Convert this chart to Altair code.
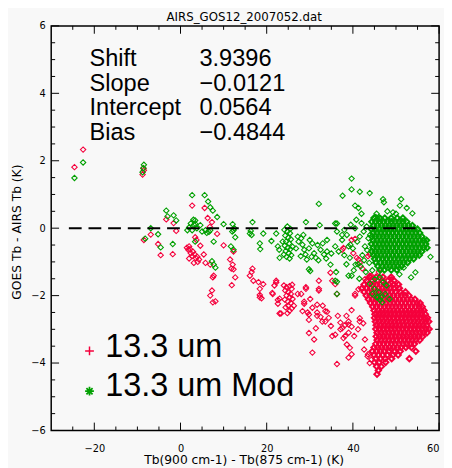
import altair as alt
import pandas as pd

# ---------------- data ----------------
# "13.3 um" (red) scattered points: (x, y)
red_pts = [
    (-22.6, 2.33), (-24.6, 1.81), (-8.6, 1.78), (-8.8, 1.59), (-8.5, 1.72),
    (-8.5, -0.35), (-6.9, -0.19), (-3.3, 0.26), (-1.6, 0.15), (-1.0, -0.08),
    (-5.2, -0.47), (-4.6, -0.8), (-1.8, -0.77),
    (2.7, 0.67), (5.6, 0.6), (6.3, 0.3), (7.3, 0.18), (6.8, 0.04), (3.4, -0.27),
    (3.7, -0.35), (8.5, -0.17), (10.0, -0.51), (4.6, -0.52), (2.0, -0.54),
    (1.8, -0.64), (2.4, -0.74), (2.7, -0.83), (3.5, -0.88), (3.1, -1.03),
    (4.3, -0.93), (5.4, -0.78), (5.8, -1.03), (6.9, -1.08), (7.7, -1.41),
    (7.3, -1.85), (6.9, -2.0), (8.1, -2.17), (7.5, -1.46), (7.5, -2.2),
    (1.5, -0.58), (2.2, -0.62), (2.9, -0.7), (3.3, -0.78), (2.0, -0.9),
    (3.9, -0.85), (4.0, -1.0),
    (12.3, -0.69), (12.1, -1.08), (12.3, -1.22), (12.7, -1.46), (11.9, -1.69),
    (11.5, -0.93), (11.8, -1.2), (16.7, -1.2), (16.1, -1.41), (16.9, -1.56),
    (16.5, -1.3), (18.1, -1.6),
    (19.2, -1.66), (18.4, -1.8), (18.4, -1.98), (18.8, -2.08), (18.4, -2.05),
    (21.4, -1.95), (22.2, -1.56), (21.8, -1.7), (22.6, -2.13), (23.0, -2.53),
    (23.0, -2.09), (22.6, -2.24), (23.3, -2.53), (21.3, -1.92), (22.2, -1.61),
    (24.0, -1.7), (24.6, -1.75), (25.3, -1.72), (25.8, -1.8), (24.3, -1.85),
    (25.0, -1.9), (25.6, -1.95), (24.6, -2.0), (25.3, -2.05), (26.0, -2.1),
    (24.2, -2.12), (24.9, -2.18), (25.6, -2.22), (25.0, -2.3), (24.4, -2.35),
    (25.8, -2.38), (25.3, -2.45), (26.3, -2.3), (24.8, -2.52), (25.9, -1.68),
    (27.2, -1.95), (28.0, -1.95), (29.1, -1.75), (28.7, -2.24), (28.7, -2.18),
    (29.5, -2.5), (28.3, -2.46), (29.8, -2.56), (29.8, -2.72), (30.6, -2.36),
    (31.7, -2.27), (32.1, -1.8), (31.7, -2.6), (32.9, -2.77), (34.4, -2.66),
    (33.6, -2.46), (31.4, -2.97), (29.8, -3.11), (31.0, -3.3), (30.6, -3.69),
    (32.1, -1.85), (31.7, -2.5), (32.5, -2.63), (33.6, -2.77), (34.0, -2.48),
    (35.9, -3.16), (35.2, -3.2), (37.5, -2.97), (37.1, -2.8), (38.2, -2.87),
    (39.0, -2.77), (39.7, -2.92), (37.8, -3.26), (38.6, -3.45), (39.3, -3.55),
    (39.7, -3.74), (39.0, -3.84), (36.3, -4.03), (41.6, -2.77), (42.4, -2.82),
    (43.5, -3.74), (44.3, -3.9), (39.7, -2.43), (40.5, -1.95), (41.3, -1.81),
    (36.3, -1.95), (35.9, -1.66), (34.8, -1.32), (35.2, -1.56), (32.1, -1.56),
    (29.1, -1.8), (30.1, -2.1), (33.0, -2.3), (34.9, -2.9), (36.5, -2.6),
    (38.5, -2.6), (39.0, -3.1), (40.3, -3.2), (38.2, -3.2), (37.1, -3.0),
    (41.6, -2.67), (41.2, -3.0), (42.8, -3.3), (42.6, -3.6), (43.4, -3.8),
    (43.9, -4.0), (40.5, -2.0), (42.0, -1.8), (42.8, -1.51), (43.9, -1.41),
    (39.0, -2.86),
    (37.8, -0.59), (40.1, -0.74), (40.9, -0.88), (41.6, -1.03), (43.9, -0.78),
    (40.5, -0.32), (37.5, -0.64), (39.7, -0.35), (41.3, -0.93), (43.5, -0.83),
    (44.3, -1.41), (48.9, -1.51), (42.2, -1.2), (46.0, -1.3),
]

# dense red cloud, read row by row: (y, [x, ...])
red_rows = [
    (-1.45, [43.9, 45.4, 47.0, 48.9]),
    (-1.56, [43.2, 44.5, 45.7, 46.9, 48.1, 49.6]),
    (-1.67, [42.6, 43.7, 44.6, 45.5, 46.4, 47.3, 48.4, 49.5, 50.6]),
    (-1.78, [42.1, 43.2, 44.1, 45.0, 45.9, 46.8, 47.7, 48.6, 49.6, 50.8]),
    (-1.89, [42.6, 43.6, 44.5, 45.4, 46.3, 47.2, 48.1, 49.0, 49.9, 51.0, 52.2]),
    (-2.00, [43.1, 44.0, 44.9, 45.8, 46.7, 47.6, 48.5, 49.4, 50.3, 51.2, 52.1, 53.0]),
    (-2.11, [43.6, 44.5, 45.4, 46.3, 47.2, 48.1, 49.0, 49.9, 50.8, 51.7, 52.6, 53.5, 54.4]),
    (-2.22, [44.1, 45.0, 45.9, 46.8, 47.7, 48.6, 49.5, 50.4, 51.3, 52.2, 53.1, 54.0, 54.9, 55.6]),
    (-2.33, [44.6, 45.5, 46.4, 47.3, 48.2, 49.1, 50.0, 50.9, 51.8, 52.7, 53.6, 54.5, 55.4, 56.1]),
    (-2.44, [44.9, 45.9, 46.8, 47.7, 48.6, 49.5, 50.4, 51.3, 52.2, 53.1, 54.0, 54.9, 55.8, 56.5]),
    (-2.55, [45.1, 46.0, 46.9, 47.8, 48.7, 49.6, 50.5, 51.4, 52.3, 53.2, 54.1, 55.0, 55.9, 56.8]),
    (-2.66, [45.0, 45.9, 46.8, 47.7, 48.6, 49.5, 50.4, 51.3, 52.2, 53.1, 54.0, 54.9, 55.8, 56.7, 57.3]),
    (-2.77, [45.2, 46.1, 47.0, 47.9, 48.8, 49.7, 50.6, 51.5, 52.4, 53.3, 54.2, 55.1, 56.0, 56.9, 57.6]),
    (-2.88, [45.4, 46.3, 47.2, 48.1, 49.0, 49.9, 50.8, 51.7, 52.6, 53.5, 54.4, 55.3, 56.2, 57.1]),
    (-2.99, [45.3, 46.2, 47.1, 48.0, 48.9, 49.8, 50.7, 51.6, 52.5, 53.4, 54.3, 55.2, 56.1, 57.0, 57.7]),
    (-3.10, [45.6, 46.5, 47.4, 48.3, 49.2, 50.1, 51.0, 51.9, 52.8, 53.7, 54.6, 55.5, 56.4, 57.2]),
    (-3.21, [45.4, 46.3, 47.2, 48.1, 49.0, 49.9, 50.8, 51.7, 52.6, 53.5, 54.4, 55.3, 56.2]),
    (-3.32, [45.6, 46.5, 47.4, 48.3, 49.2, 50.1, 51.0, 51.9, 52.8, 53.7, 54.6, 55.5]),
    (-3.43, [45.3, 46.2, 47.1, 48.0, 48.9, 49.8, 50.7, 51.6, 52.5, 53.4, 54.3]),
    (-3.54, [44.9, 45.8, 46.7, 47.6, 48.5, 49.4, 50.3, 51.2, 52.3, 53.6]),
    (-3.65, [44.5, 45.5, 46.4, 47.3, 48.4, 49.6, 51.0, 54.6]),
    (-3.76, [44.9, 45.9, 46.9, 48.0, 49.3, 50.5]),
    (-3.87, [45.3, 46.4, 47.5, 49.0, 53.1]),
    (-3.98, [45.0, 46.1, 47.6]),
    (-4.10, [45.5, 46.6]),
    (-4.22, [45.9]),
    (-4.33, [45.6]),
]

# "13.3 um Mod" (green) scattered points: (x, y)
green_pts = [
    (-24.6, 1.49), (-22.6, 1.95), (-8.5, 1.88), (-8.8, 1.66), (-8.6, 1.78),
    (-8.2, -0.31), (-6.9, 0.0), (-5.2, -0.18), (-4.6, -0.57), (-3.3, 0.52),
    (-1.6, 0.38), (-1.0, 0.23), (-1.8, -0.47), (-3.0, 0.35),
    (2.7, 0.98), (5.6, 0.98), (6.4, 0.79), (6.9, 0.62), (7.5, 0.52), (8.5, 0.33),
    (3.4, 0.23), (2.4, 0.14), (3.1, 0.1), (3.5, 0.12), (4.6, 0.09), (2.0, 0.02),
    (2.7, -0.06), (1.6, -0.06), (5.8, -0.06), (6.6, -0.11), (6.9, -0.06),
    (7.7, -0.4), (10.0, 0.12), (12.1, 0.12), (12.3, -0.06), (12.0, -0.1),
    (12.7, -0.27), (11.7, -0.54), (12.3, -0.64), (7.3, -0.98), (7.7, -1.08),
    (8.1, -1.17), (16.7, 0.18), (16.1, -0.16), (16.5, -0.2), (3.4, -0.4),
    (3.0, 0.25), (3.8, 0.0), (5.0, -0.1), (6.1, -0.14), (12.5, 0.0), (16.3, -0.08),
    (18.4, -0.45), (18.5, -0.62), (19.2, -0.16), (21.1, -0.38), (22.2, -0.16),
    (22.6, -0.54), (22.9, -0.64), (23.0, -0.88), (23.7, -0.4),
    (24.1, -0.05), (24.8, -0.1), (25.4, -0.15), (24.3, -0.22), (25.0, -0.28),
    (25.6, -0.33), (24.5, -0.4), (25.2, -0.45), (24.2, -0.52), (24.9, -0.58),
    (25.5, -0.62), (24.4, -0.68), (25.1, -0.74), (25.7, -0.8), (24.6, -0.85),
    (25.3, -0.9), (24.0, -0.78), (26.0, -0.55), (24.8, 0.05), (25.5, -0.02),
    (27.2, -0.25), (27.4, -0.4), (28.3, -0.49), (28.7, -0.64), (27.9, -0.83),
    (29.0, -0.78), (29.8, -0.6), (30.6, -0.45), (31.0, -0.74), (31.4, -0.88),
    (29.3, -0.93), (32.5, -0.64), (33.3, -0.78), (34.0, -0.69), (34.0, -0.35),
    (35.9, -0.54), (36.3, -0.1), (37.5, -0.2), (29.1, 0.18), (32.1, 0.72),
    (32.3, 0.09), (35.9, 0.14), (37.6, 0.96), (39.7, 1.15), (29.8, -1.22),
    (30.1, -1.27), (35.9, -1.56), (36.1, -1.3), (39.0, -0.54), (39.7, -1.41),
    (36.3, -1.95), (28.0, -0.3), (30.0, -0.35), (31.8, -0.5), (33.0, -0.45),
    (32.0, -0.95), (30.4, -0.85), (28.5, -0.2), (26.8, -0.6), (33.8, -0.9),
    (35.0, -0.75), (34.8, -1.08),
    (39.7, 1.47), (41.6, 1.08), (43.9, 1.04), (47.0, 0.86), (47.2, 0.77),
    (51.2, 0.86), (50.9, 0.67), (49.3, 0.47), (50.0, 0.43), (53.8, 0.44),
    (40.5, 0.67), (41.3, 0.6), (42.0, 0.43), (45.5, 0.43), (45.3, 0.33),
    (46.5, 0.28), (36.3, 0.14), (58.0, -0.85), (48.0, 0.5), (52.5, 0.6),
    (37.5, -0.35), (36.7, -0.69), (38.6, -0.2), (39.4, -0.49), (40.5, 0.0),
    (41.6, -0.25), (42.8, -0.54), (39.3, -0.88), (38.5, -1.07), (41.2, -1.07),
    (43.2, 0.05), (43.6, -0.3), (44.3, -0.69), (43.8, -1.03), (36.3, -1.59),
    (39.0, -1.41), (40.6, -1.08), (41.8, -1.13), (45.1, -1.51), (47.8, -1.7),
    (46.6, -2.05), (50.8, -1.37), (53.5, -1.46), (54.5, -1.31), (51.8, -1.17),
    (38.0, -0.8), (40.0, -0.6), (41.0, -0.4), (42.2, -0.8), (42.5, -0.1),
    (42.0, 0.15), (40.8, 0.25), (39.5, 0.1), (43.0, -1.3), (41.5, -1.5),
    (44.0, -0.2), (43.3, -0.65), (42.6, -0.95), (40.2, -1.25), (38.0, -0.05),
    (44.5, -1.25),
    (44.0, -1.65), (45.0, -1.8), (46.0, -1.9), (45.5, -2.05), (46.8, -2.2),
    (47.5, -1.95), (48.5, -2.1), (44.5, -1.95), (47.0, -1.6), (46.2, -1.45),
    (45.8, -2.05), (46.3, -2.13),
]

# dense green cloud, read row by row: (y, [x, ...])
green_rows = [
    (0.30, [44.9, 46.2, 47.4, 48.9, 50.3, 51.6]),
    (0.19, [44.4, 45.3, 46.2, 47.1, 48.0, 48.9, 49.8, 50.7, 51.6, 52.5]),
    (0.08, [44.8, 45.7, 46.6, 47.5, 48.4, 49.3, 50.2, 51.1, 52.0, 52.9, 53.8]),
    (-0.03, [44.3, 45.2, 46.1, 47.0, 47.9, 48.8, 49.7, 50.6, 51.5, 52.4, 53.3, 54.2, 55.0]),
    (-0.14, [44.7, 45.6, 46.5, 47.4, 48.3, 49.2, 50.1, 51.0, 51.9, 52.8, 53.7, 54.6, 55.5]),
    (-0.25, [44.4, 45.2, 46.1, 47.0, 47.9, 48.8, 49.7, 50.6, 51.5, 52.4, 53.3, 54.2, 55.1, 56.0]),
    (-0.36, [44.7, 45.6, 46.5, 47.4, 48.3, 49.2, 50.1, 51.0, 51.9, 52.8, 53.7, 54.6, 55.5, 56.4, 57.1]),
    (-0.47, [44.3, 45.2, 46.1, 47.0, 47.9, 48.8, 49.7, 50.6, 51.5, 52.4, 53.3, 54.2, 55.1, 56.0, 56.9]),
    (-0.58, [44.7, 45.6, 46.5, 47.4, 48.3, 49.2, 50.1, 51.0, 51.9, 52.8, 53.7, 54.6, 55.5, 56.4, 57.2]),
    (-0.69, [44.4, 45.2, 46.1, 47.0, 47.9, 48.8, 49.7, 50.6, 51.5, 52.4, 53.3, 54.2, 55.1, 56.0]),
    (-0.80, [44.8, 45.6, 46.5, 47.4, 48.3, 49.2, 50.1, 51.0, 51.9, 52.8, 53.7, 54.6, 55.4]),
    (-0.91, [45.0, 46.0, 46.9, 47.8, 48.7, 49.6, 50.5, 51.4, 52.3, 53.2, 54.1]),
    (-1.02, [45.3, 46.4, 47.3, 48.2, 49.1, 50.0, 50.9, 51.8, 52.7]),
    (-1.13, [45.8, 46.8, 47.7, 48.6, 49.5, 50.4, 51.3]),
    (-1.24, [46.3, 47.3, 48.9, 50.2]),
]

stat_names = ["Shift", "Slope", "Intercept", "Bias"]
stat_values = ["3.9396", "\u22120.0121", "0.0564", "\u22120.4844"]
legend_labels = ["13.3 um", "13.3 um Mod"]
title_text = "AIRS_GOS12_2007052.dat"
x_title = "Tb(900 cm-1) - Tb(875 cm-1) (K)"
y_title = "GOES Tb - AIRS Tb (K)"
x_domain = [-30, 60]
y_domain = [-6, 6]
x_major = [-20, 0, 20, 40, 60]
y_major = [-6, -4, -2, 0, 2, 4, 6]
x_minor = [-25, -15, -10, -5, 5, 10, 15, 25, 30, 35, 45, 50, 55]
y_minor = [-5.5, -5, -4.5, -3.5, -3, -2.5, -1.5, -1, -0.5,
           0.5, 1, 1.5, 2.5, 3, 3.5, 4.5, 5, 5.5]
zero_line_start = -25.9

# ---------------- styling ----------------
RED = "#f5003c"
GREEN = "#00a000"
BG = "#f8f8f8"
W, H = 395, 412


def to_df(pts=None, rows=None):
    xs_, ys_ = [], []
    for p in (pts or []):
        xs_.append(p[0])
        ys_.append(p[1])
    for y, row in (rows or []):
        for x in row:
            xs_.append(x)
            ys_.append(y)
    return pd.DataFrame({"x": xs_, "y": ys_})


xs = alt.Scale(domain=x_domain, nice=False, zero=False)
ys = alt.Scale(domain=y_domain, nice=False, zero=False)
x_axis = alt.Axis(values=x_major, ticks=False, tickSize=0, domain=False, grid=False,
                  labelFont="DejaVu Sans", labelFontSize=10, labelColor="black",
                  labelPadding=13, labelFlush=True, title=None, format="d")
y_axis = alt.Axis(values=y_major, ticks=False, tickSize=0, domain=False, grid=False,
                  labelFont="DejaVu Sans", labelFontSize=10, labelColor="black",
                  labelPadding=6, labelFlush=False, title=None, format="d")


def X(f):
    return alt.X(f, type="quantitative", scale=xs, axis=x_axis)


def Y(f):
    return alt.Y(f, type="quantitative", scale=ys, axis=y_axis)


def pts_layer(df, color, sw):
    return alt.Chart(df).mark_point(
        shape="diamond", filled=False, size=30, strokeWidth=sw, color=color, opacity=1
    ).encode(x=X("x"), y=Y("y"))


layers = [
    pts_layer(to_df(rows=red_rows), RED, 2.0),
    pts_layer(to_df(pts=red_pts), RED, 1.1),
    pts_layer(to_df(rows=green_rows), GREEN, 2.0),
    pts_layer(to_df(pts=green_pts), GREEN, 1.1),
]

zero_df = pd.DataFrame({"x": [zero_line_start], "x2": [x_domain[1]], "y": [0]})
layers.append(alt.Chart(zero_df).mark_rule(
    color="black", strokeWidth=2, strokeDash=[13, 7]
).encode(x=X("x"), x2="x2:Q", y=Y("y")))

# inward ticks on all four sides
for vals, ln in ((x_major, 8), (x_minor, 4)):
    d = pd.DataFrame({"v": vals})
    layers.append(alt.Chart(d).mark_rule(color="black", strokeWidth=1).encode(
        x=X("v"), y=alt.value(H), y2=alt.value(H - ln)))
    layers.append(alt.Chart(d).mark_rule(color="black", strokeWidth=1).encode(
        x=X("v"), y=alt.value(0), y2=alt.value(ln)))
for vals, ln in ((y_major, 8), (y_minor, 4)):
    d = pd.DataFrame({"v": vals})
    layers.append(alt.Chart(d).mark_rule(color="black", strokeWidth=1).encode(
        y=Y("v"), x=alt.value(0), x2=alt.value(ln)))
    layers.append(alt.Chart(d).mark_rule(color="black", strokeWidth=1).encode(
        y=Y("v"), x=alt.value(W), x2=alt.value(W - ln)))

# statistics block
for i, (nm, val) in enumerate(zip(stat_names, stat_values)):
    d = pd.DataFrame({"n": [nm], "v": [val]})
    layers.append(alt.Chart(d).mark_text(
        align="left", baseline="alphabetic", font="Liberation Sans", fontSize=24,
        color="black").encode(x=alt.value(39), y=alt.value(41 + 25 * i), text="n:N"))
    layers.append(alt.Chart(d).mark_text(
        align="left", baseline="alphabetic", font="Liberation Sans", fontSize=24,
        color="black").encode(x=alt.value(151), y=alt.value(41 + 25 * i), text="v:N"))

# manual legend
plus_path = "M-1,0L1,0M0,-1L0,1"
star_path = "M-1,0L1,0M0,-1L0,1M-0.7,-0.7L0.7,0.7M-0.7,0.7L0.7,-0.7"
leg = pd.DataFrame({"t": legend_labels})
layers.append(alt.Chart(leg.iloc[[0]]).mark_point(
    shape=plus_path, size=80, strokeWidth=1.5, color=RED, filled=False, opacity=1
).encode(x=alt.value(39), y=alt.value(331)))
layers.append(alt.Chart(leg.iloc[[1]]).mark_point(
    shape=star_path, size=80, strokeWidth=1.8, color=GREEN, filled=False, opacity=1
).encode(x=alt.value(39), y=alt.value(372)))
for i in range(2):
    layers.append(alt.Chart(leg.iloc[[i]]).mark_text(
        align="left", baseline="alphabetic", font="Liberation Sans", fontSize=33,
        color="black").encode(x=alt.value(55), y=alt.value(337 + 40 * i), text="t:N"))

# titles
tdf = pd.DataFrame({"t": [title_text], "xt": [x_title], "yt": [y_title]})
layers.append(alt.Chart(tdf).mark_text(
    align="center", baseline="alphabetic", font="DejaVu Sans", fontSize=12,
    color="black").encode(x=alt.value(W / 2 - 1), y=alt.value(-4.5), text="t:N"))
layers.append(alt.Chart(tdf).mark_text(
    align="center", baseline="alphabetic", font="DejaVu Sans", fontSize=12.5,
    color="black").encode(x=alt.value(W / 2 - 1), y=alt.value(H + 34), text="xt:N"))
layers.append(alt.Chart(tdf).mark_text(
    align="center", baseline="middle", font="DejaVu Sans", fontSize=12.5, angle=270,
    color="black").encode(x=alt.value(-35), y=alt.value(H / 2 + 4), text="yt:N"))

chart = alt.layer(*layers).properties(
    width=W, height=H,
    autosize=alt.AutoSizeParams(type="none"),
    padding={"left": 44, "top": 14, "right": 5, "bottom": 34},
    background=BG,
).configure_view(stroke="black", strokeWidth=1.5).configure_axis(grid=False)

chart.save("out.html", embed_options={"renderer": "svg", "actions": False})
